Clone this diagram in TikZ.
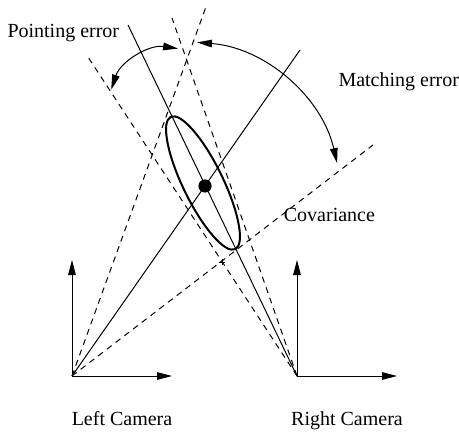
\documentclass[tikz,border=0pt]{standalone}
\usepackage{fontspec}
\setmainfont{Liberation Serif}
\usetikzlibrary{arrows.meta}

\begin{document}
\begin{tikzpicture}[x=10pt, y=10pt, line width=0.5pt,
	every node/.style={font=\fontsize{10}{12}\selectfont, inner sep=0pt},
	>={Triangle[length=7.5pt, width=3.8pt]},
	errline/.style={dash pattern=on 3pt off 2.5pt}]
	\useasboundingbox (-3.6,-2.85) rectangle (19.35,18.8);
	\coordinate (L) at (0,0);
	\coordinate (R) at (11.25,0);
	\coordinate (P) at (6.65,9.5);
	\coordinate (Ls) at (11.4,16.3);
	\coordinate (Rs) at (2.8,17.55);
	\coordinate (La) at (6.75,18.6);
	\coordinate (Lb) at (15.05,11.55);
	\coordinate (Ra) at (0.8,15.95);
	\coordinate (Rb) at (5.0,17.9);
	% camera frames
	\draw[->] (L) -- ++(0,5.8);
	\draw[->] (L) -- ++(5,0);
	\draw[->] (R) -- ++(0,5.8);
	\draw[->] (R) -- ++(5,0);
	\node[anchor=base] (lcam) at (2.5,-2.45) {Left Camera};
	\node[anchor=base] (rcam) at (13.75,-2.45) {Right Camera};
	% rays
	\draw (L) -- (Ls);
	\draw (R) -- (Rs);
	\draw[errline] (L) -- (La);
	\draw[errline] (L) -- (Lb);
	\draw[errline] (R) -- (Ra);
	\draw[errline] (R) -- (Rb);
	\draw (7.37,5.7) -- (7.63,5.7) (7.5,5.57) -- (7.5,5.83);
	% covariance
	\draw[line width=1pt, rotate around={116:(6.55,9.65)}] (6.55,9.65) ellipse (3.68 and 1.0);
	\fill (P) circle (0.33);
	\node[anchor=base west] (cov) at (10.57,7.7) {Covariance};
	% errors
	\draw[<->] (1.96,14.32) arc[start angle=161.5, end angle=81.5, radius=3.05];
	\node[anchor=base west] (perr) at (-3.25,16.9) {Pointing error};
	\draw[<->] (6.25,16.68) arc[start angle=85.6, end angle=12.9, radius=7.8];
	\node[anchor=base west] (merr) at (13.3,14.45) {Matching error};
\end{tikzpicture}
\end{document}
